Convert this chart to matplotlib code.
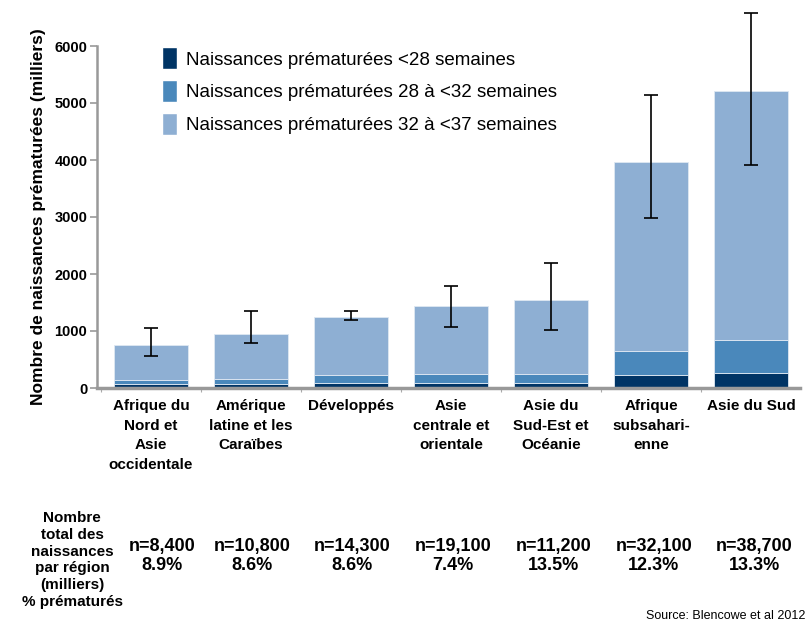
import matplotlib
matplotlib.use("Agg")
import matplotlib.pyplot as plt
from matplotlib.patches import Patch
import numpy as np

plt.rcParams['font.family'] = ['Liberation Sans', 'DejaVu Sans']

regions = ["Afrique du\nNord et\nAsie\noccidentale", "Amérique\nlatine et les\nCaraïbes",
           "Développés", "Asie\ncentrale et\norientale", "Asie du\nSud-Est et\nOcéanie",
           "Afrique\nsubsahari-\nenne", "Asie du Sud"]
lt28 = [65, 65, 88, 88, 88, 223, 270]
w28_32 = [70, 93, 135, 158, 158, 428, 569]
w32_37 = [625, 798, 1026, 1191, 1297, 3308, 4369]
err_low = [557, 798, 1185, 1062, 1015, 2991, 3918]
err_high = [1044, 1349, 1349, 1789, 2188, 5138, 6575]
n_births = ["n=8,400", "n=10,800", "n=14,300", "n=19,100", "n=11,200", "n=32,100", "n=38,700"]
pct_preterm = ["8.9%", "8.6%", "8.6%", "7.4%", "13.5%", "12.3%", "13.3%"]
legend_labels = ["Naissances prématurées <28 semaines",
                 "Naissances prématurées 28 à <32 semaines",
                 "Naissances prématurées 32 à <37 semaines"]
yticks = [0, 1000, 2000, 3000, 4000, 5000, 6000]

c_dark = "#003465"
c_mid = "#4A88BB"
c_light = "#8EAFD3"

fig = plt.figure(figsize=(8.1, 6.21), dpi=100)
ax = fig.add_axes([97/810, 1-388/621, (800-97)/810, (388-46)/621])

x = np.arange(len(regions))
a = np.array(lt28); b = np.array(w28_32); c = np.array(w32_37)
ax.bar(x, a, 0.74, color=c_dark, edgecolor="#dfe8f2", linewidth=0.6)
ax.bar(x, b, 0.74, bottom=a, color=c_mid, edgecolor="#dfe8f2", linewidth=0.6)
ax.bar(x, c, 0.74, bottom=a+b, color=c_light, edgecolor="#dfe8f2", linewidth=0.6)
total = a + b + c
ax.errorbar(x, total, yerr=[total-np.array(err_low), np.array(err_high)-total],
            fmt="none", ecolor="black", elinewidth=1.2, capsize=5, capthick=1.2,
            clip_on=False)

ax.set_xlim(-0.54, 6.49)
ax.set_ylim(0, 6000)
ax.set_yticks(yticks)
ax.set_yticklabels([str(v) for v in yticks], fontsize=10.5, fontweight="bold")
ax.set_xticks(x)
ax.set_xticklabels(regions, fontsize=11, linespacing=1.5, fontweight="bold")
ax.tick_params(axis='x', length=0, pad=8)
ax.set_xticks(np.arange(-0.5, 6.5, 1), minor=True)
ax.tick_params(axis='x', which='minor', length=3, color="#aaaaaa", width=0.8)
ax.tick_params(axis='y', length=5, color="#999999", width=1.2, pad=2)
for s in ["top", "right"]:
    ax.spines[s].set_visible(False)
ax.spines["left"].set_color("#999999")
ax.spines["left"].set_linewidth(1.8)
ax.spines["bottom"].set_color("#999999")
ax.spines["bottom"].set_linewidth(2.5)
ax.set_ylabel("Nombre de naissances prématurées (milliers)", fontsize=12.5,
              fontweight="bold", labelpad=6)

handles = [Patch(facecolor=col, edgecolor="white") for col in (c_dark, c_mid, c_light)]
ax.legend(handles, legend_labels, loc="upper left", bbox_to_anchor=(0.068, 1.045),
          frameon=False, fontsize=13.5, handlelength=0.8, handleheight=1.4,
          labelspacing=0.6, handletextpad=0.5)

fig.text(72/810, 1-560/621, "Nombre\ntotal des\nnaissances\npar région\n(milliers)\n% prématurés",
         ha="center", va="center", fontsize=11, fontweight="bold", linespacing=1.25)
n_offset = [0.11, 0, 0, 0, 0, 0, 0]
for i in range(len(regions)):
    xf = (97 + (i + 0.54 + n_offset[i]) * 100.5) / 810
    fig.text(xf, 1-556/621, n_births[i] + "\n" + pct_preterm[i], ha="center", va="center",
             fontsize=13, fontweight="bold", linespacing=1.1)
fig.text(805/810, 1-616/621, "Source: Blencowe et al 2012", ha="right", va="center",
         fontsize=9)

fig.savefig("out.png", dpi=100)
